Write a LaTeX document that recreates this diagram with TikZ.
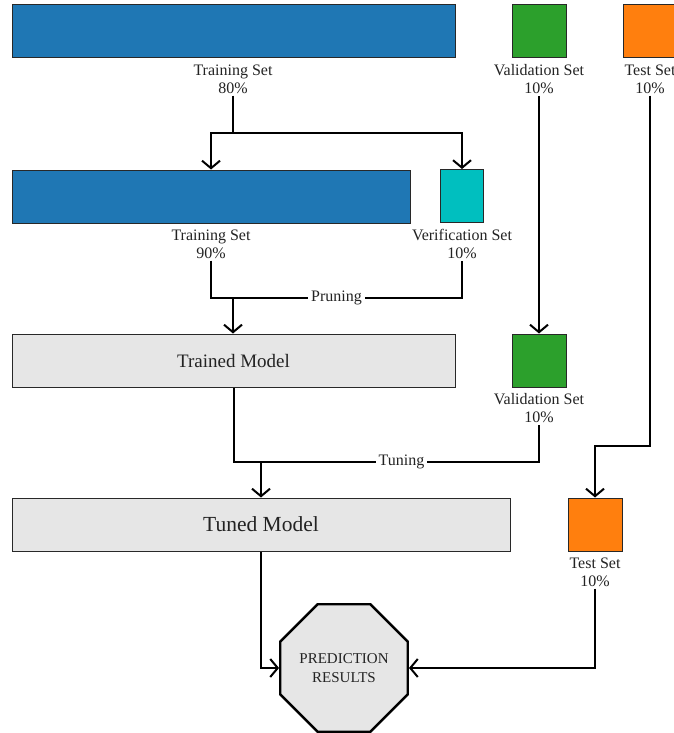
\documentclass[tikz,border=0pt]{standalone}
\usepackage{fontspec}
\setmainfont{Liberation Serif}
\usetikzlibrary{arrows.meta,shapes.geometric,positioning}

\definecolor{setblue}{RGB}{31,119,180}
\definecolor{setgreen}{RGB}{44,160,44}
\definecolor{setorange}{RGB}{255,127,14}
\definecolor{setcyan}{RGB}{0,191,191}
\definecolor{modelgray}{RGB}{230,230,230}
\definecolor{boxline}{RGB}{40,40,40}
\definecolor{txtgray}{RGB}{35,35,35}

\tikzset{
setbox/.style={draw=boxline, line width=1pt, inner sep=0pt, minimum height=53pt},
setlbl/.style={align=center, text=txtgray, inner sep=2pt,
    font=\fontsize{16}{18}\selectfont},
midlbl/.style={setlbl, fill=white, inner sep=3pt},
modelbox/.style={setbox, fill=modelgray, text=txtgray},
link/.style={line width=2pt},
flow/.style={link, -{Straight Barb[length=7.5pt,width=18pt,line width=2pt]}}}

\begin{document}
\begin{tikzpicture}[x=1pt,y=1pt,yscale=-1,xscale=1]

    \useasboundingbox (0,0) rectangle (673,733);

    % first split
    \node[setbox, fill=setblue, minimum width=443pt] (train80) at (233.5,31.5) {};
    \node[setbox, fill=setgreen, minimum width=54pt] (valid1) at (539,31.5) {};
    \node[setbox, fill=setorange, minimum width=54pt] (test1) at (650,31.5) {};
    \node[setlbl] (train80lbl) at (233,79) {Training Set\\80\%};
    \node[setlbl] (valid1lbl) at (539,79) {Validation Set\\10\%};
    \node[setlbl] (test1lbl) at (650,79) {Test Set\\10\%};

    % second split
    \node[setbox, fill=setblue, minimum width=398pt] (train90) at (211,196.5) {};
    \node[setbox, fill=setcyan, minimum width=43pt] (verif) at (462,196) {};
    \node[setlbl] (train90lbl) at (211,244) {Training Set\\90\%};
    \node[setlbl] (veriflbl) at (462,244) {Verification Set\\10\%};

    % models
    \node[modelbox, minimum width=443pt, font=\fontsize{19}{22}\selectfont] (trained) at (233.5,360.5) {Trained Model};
    \node[setbox, fill=setgreen, minimum width=54pt] (valid2) at (539,360.5) {};
    \node[setlbl] (valid2lbl) at (539,408) {Validation Set\\10\%};

    \node[modelbox, minimum width=498pt, font=\fontsize{21.5}{24}\selectfont] (tuned) at (261,524.5) {Tuned Model};
    \node[setbox, fill=setorange, minimum width=54pt] (test2) at (595,524.5) {};
    \node[setlbl] (test2lbl) at (595,572) {Test Set\\10\%};

    \node[draw=black, line width=2.4pt, fill=modelgray, regular polygon, regular polygon sides=8,
        minimum size=138pt, inner sep=0pt, align=center, text=txtgray,
        font=\fontsize{15}{19}\selectfont] (pred) at (344,668) {PREDICTION\\RESULTS};

    \coordinate (split1) at (233,133);
    \coordinate (prunejoin) at (233,298);
    \coordinate (tunejoin) at (261,462);
    \coordinate (test2bend) at (595,446);

    % connectors
    \draw[link] (train80lbl.south) -- (split1);
    \draw[flow] (split1) -| (train90.north);
    \draw[flow] (split1) -| (verif.north);

    \draw[link] (train90lbl.south) -- (train90lbl.south |- prunejoin)
        -- node[midlbl]{Pruning} (veriflbl.south |- prunejoin) -- (veriflbl.south);
    \draw[flow] (prunejoin) -- (prunejoin |- trained.north);

    \draw[flow] (valid1lbl.south) -- (valid2.north);

    \draw[link] (trained.south) -- (trained.south |- tunejoin)
        -- node[midlbl, pos=0.55]{Tuning} (valid2lbl.south |- tunejoin) -- (valid2lbl.south);
    \draw[flow] (tunejoin) -- (tuned.north);

    \draw[flow] (test1lbl.south) |- (test2bend) -- (test2.north);

    \draw[flow] (tuned.south) |- (pred.west);
    \draw[flow] (test2lbl.south) |- (pred.east);

\end{tikzpicture}
\end{document}
